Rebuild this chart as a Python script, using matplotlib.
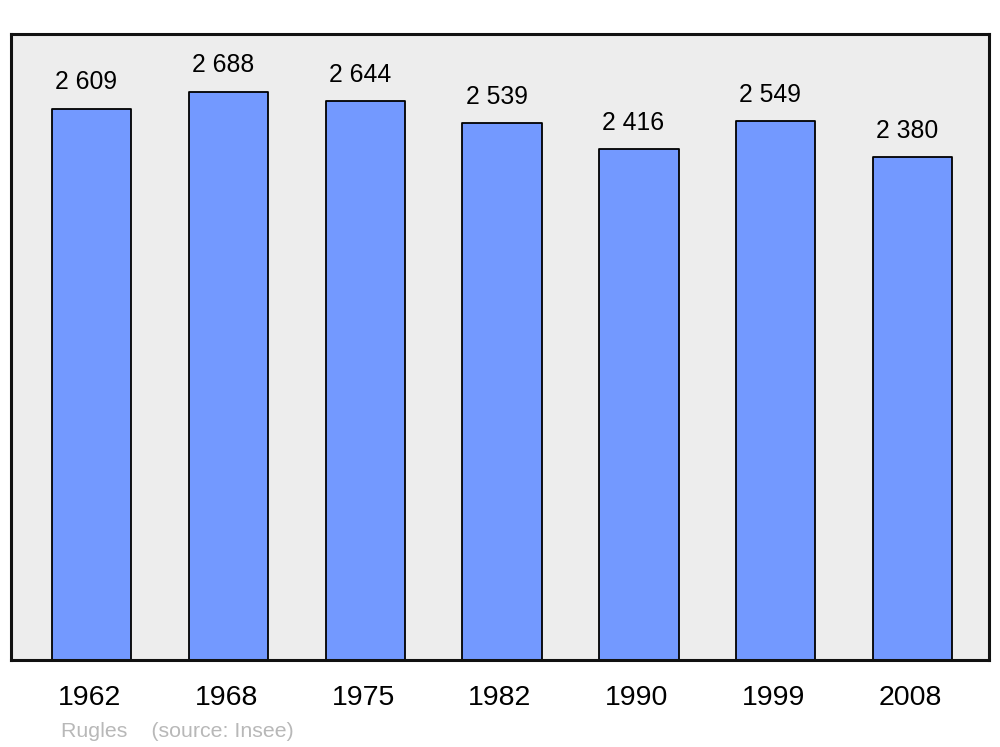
import matplotlib.pyplot as plt
import matplotlib.transforms as mtransforms
import numpy as np

plt.rcParams['font.family'] = ['Liberation Sans', 'DejaVu Sans']

years = ["1962", "1968", "1975", "1982", "1990", "1999", "2008"]
population = [2609, 2688, 2644, 2539, 2416, 2549, 2380]
value_labels = ["2 609", "2 688", "2 644", "2 539", "2 416", "2 549", "2 380"]

fig = plt.figure(figsize=(10, 7.47), dpi=100)
ax = fig.add_axes([0.011, 0.1165, 0.978, 0.838])
ax.set_facecolor("#ededed")

x = np.arange(len(years))
bars = ax.bar(x, population, width=0.58, color="#7399ff", edgecolor="black",
              linewidth=1.3, zorder=2)
for b in bars:
    b.set_joinstyle("round")

ax.set_xlim(-0.59, 6.56)
ax.set_ylim(0, 2962)

for spine in ax.spines.values():
    spine.set_linewidth(2.2)
    spine.set_color("#111111")
ax.set_xticks([])
ax.set_yticks([])

for xi, v, lab in zip(x, population, value_labels):
    tr = mtransforms.offset_copy(ax.transData, fig=fig, x=-4, y=14, units="points")
    ax.text(xi, v, lab, transform=tr, ha="center", va="baseline", fontsize=17.8)

for xi, yr in zip(x, years):
    tr = mtransforms.blended_transform_factory(ax.transData, fig.transFigure)
    tr = mtransforms.offset_copy(tr, fig=fig, x=-1.5, y=0, units="points")
    ax.text(xi, 1 - 705 / 747, yr, transform=tr, ha="center", va="baseline",
            fontsize=20.5)

fig.text(0.061, 1 - 737 / 747, "Rugles    (source: Insee)", color="#b8b8b8",
         fontsize=15.4, ha="left", va="baseline")

fig.savefig("out.png", dpi=100)
